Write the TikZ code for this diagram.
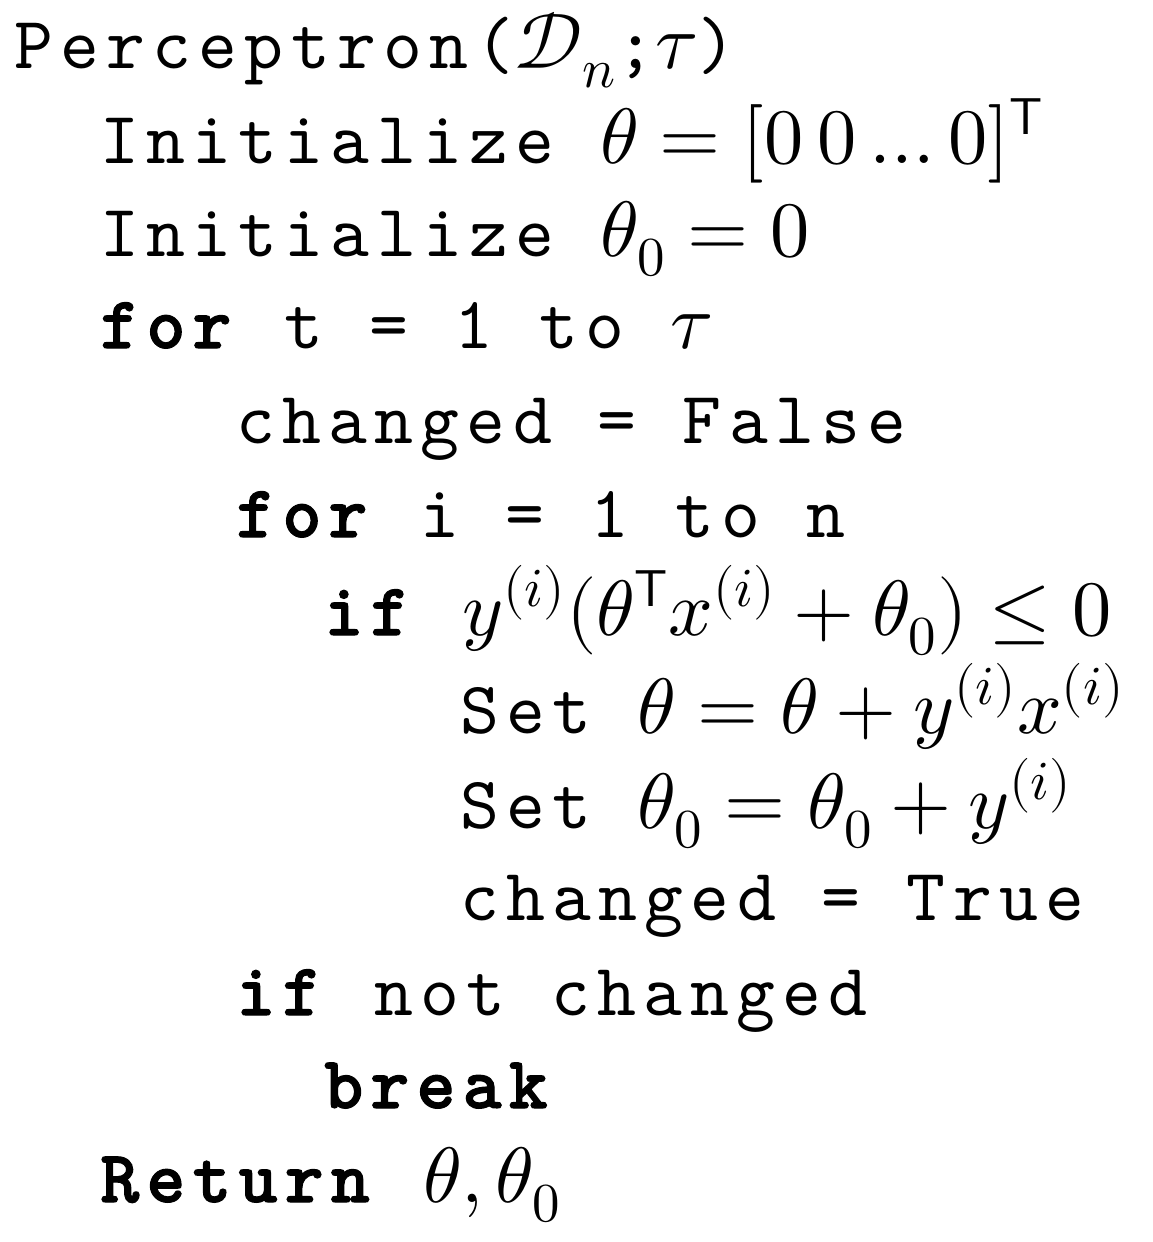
\documentclass[tikz,border=0pt]{standalone}
\usepackage{fontspec}
\usepackage{unicode-math}
\setmathfont{latinmodern-math.otf}[Scale=1.06]
\newfontfamily\codefont{lmmono10-regular}[Extension=.otf,
  BoldFont=lmmonolt10-bold, BoldFeatures={FakeBold=1.5},
  LetterSpace=9.8]
\begin{document}
\begin{tikzpicture}[x=0.5pt,y=-0.5pt,
  codeline/.style={anchor=base west,inner sep=0pt,font=\fontsize{37}{40}\selectfont\codefont}]
\useasboundingbox (0,0) rectangle (1152,1242);
\node[codeline] (l1) at (14,68) {Perceptron($\mathcal{D}_n$;$\tau$)};
\node[codeline] (l2) at (100,163) {Initialize $\theta=[0\,0\ldots0]^{\mathsf{T}}$};
\node[codeline] (l3) at (100,256) {Initialize $\theta_0=0$};
\node[codeline] (l4) at (100,348) {\textbf{for} t = 1 to $\tau$};
\node[codeline] (l5) at (236,443) {changed = False};
\node[codeline] (l6) at (236,537) {\textbf{for} i = 1 to n};
\node[codeline] (l7) at (324,635) {\textbf{if} $y^{(i)}(\theta^{\mathsf{T}}x^{(i)}+\theta_0)\le0$};
\node[codeline] (l8) at (460,733) {Set $\theta=\theta+y^{(i)}x^{(i)}$};
\node[codeline] (l9) at (460,828) {Set $\theta_0=\theta_0+y^{(i)}$};
\node[codeline] (l10) at (460,920) {changed = True};
\node[codeline] (l11) at (236,1015) {\textbf{if} not changed};
\node[codeline] (l12) at (324,1108) {\textbf{break}};
\node[codeline] (l13) at (100,1202) {\textbf{Return} $\theta,\theta_0$};
\end{tikzpicture}
\end{document}
